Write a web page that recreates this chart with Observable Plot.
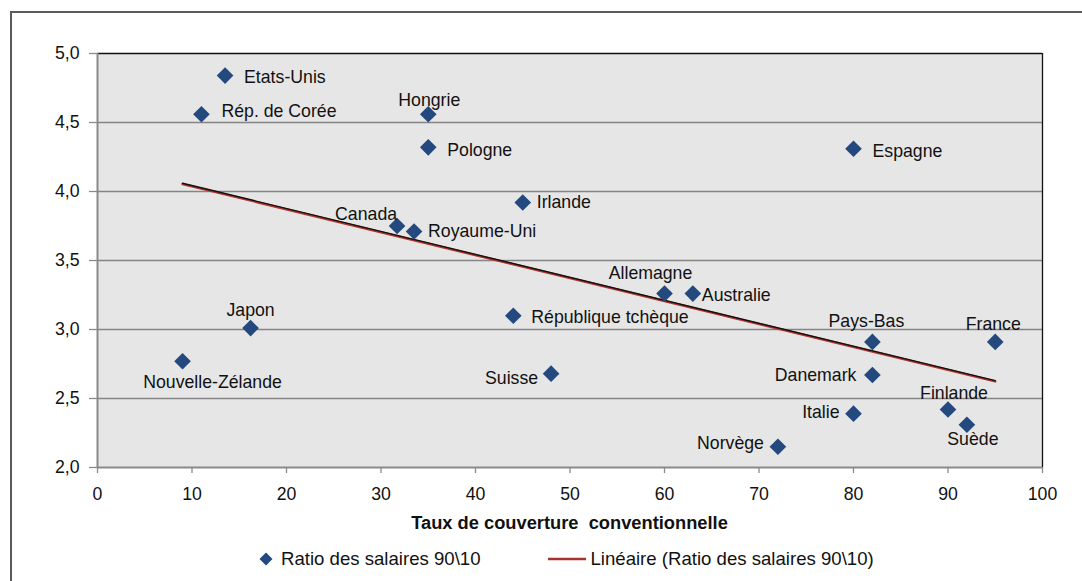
<!DOCTYPE html>
<html><head><meta charset="utf-8">
<script src="https://cdn.jsdelivr.net/npm/d3@7"></script>
<script src="https://cdn.jsdelivr.net/npm/@observablehq/plot@0.6"></script>
<style>
body{margin:0;background:#fff;font-family:"Liberation Sans",Arial,sans-serif;color:#111}
#wrap{position:relative;width:1082px;height:581px;overflow:hidden}
#frame{position:absolute;left:10px;top:11px;width:1200px;height:700px;border-left:2px solid #5a5a5a;border-top:2px solid #5a5a5a}
#chart{position:absolute;left:0;top:0}
#xtitle{position:absolute;left:97px;width:945px;top:512px;text-align:center;font-weight:bold;font-size:18.3px;white-space:pre}
#legend{position:absolute;left:258px;top:548px;display:flex;align-items:center;font-size:18.6px;white-space:pre}
#legend .it{display:flex;align-items:center}
</style></head>
<body><div id="wrap"><div id="frame"></div><div id="chart"></div>
<div id="xtitle"></div><div id="legend"></div></div>
<script>
// ---- data ----
const countries = ["Etats-Unis","Rép. de Corée","Hongrie","Pologne","Espagne","Irlande","Canada","Royaume-Uni","Allemagne","Australie","République tchèque","Japon","Nouvelle-Zélande","Suisse","Pays-Bas","France","Danemark","Italie","Finlande","Suède","Norvège"];
const coverage = [13.5, 11, 35, 35, 80, 45, 31.7, 33.5, 60, 63, 44, 16.2, 9, 48, 82, 95, 82, 80, 90, 92, 72];
const ratio90_10 = [4.84, 4.56, 4.56, 4.32, 4.31, 3.92, 3.75, 3.71, 3.26, 3.26, 3.10, 3.01, 2.77, 2.68, 2.91, 2.91, 2.67, 2.39, 2.42, 2.31, 2.15];
const xTicks = [0,10,20,30,40,50,60,70,80,90,100];
const yTicks = [2.0,2.5,3.0,3.5,4.0,4.5,5.0];
const xTitle = "Taux de couverture  conventionnelle";
const seriesName = "Ratio des salaires 90\\10";
const trendName = "Linéaire (Ratio des salaires 90\\10)";

// label placement (layout): [textAnchor, dx, dy]
const placement = {
  "Etats-Unis":["start",19,2], "Rép. de Corée":["start",20,-3], "Hongrie":["middle",1,-14],
  "Pologne":["start",19,3], "Espagne":["start",19,3], "Irlande":["start",14,0],
  "Canada":["end",0,-12], "Royaume-Uni":["start",14,0], "Allemagne":["middle",-14,-20],
  "Australie":["start",9,2], "République tchèque":["start",18,2], "Japon":["middle",0,-18],
  "Nouvelle-Zélande":["middle",30,21], "Suisse":["end",-13,5], "Pays-Bas":["middle",-6,-21],
  "France":["middle",-2,-18], "Danemark":["end",-16,0], "Italie":["end",-14,-1],
  "Finlande":["middle",6,-16], "Suède":["middle",6,15], "Norvège":["end",-14,-3]
};

const data = countries.map((c,i)=>({country:c, x:coverage[i], y:ratio90_10[i]}));
const fmt = d => d3.format(".1f")(d).replace(".", ",");
const blue = "#23497e";

const labels = data.map(d => {
  const [a,dx,dy] = placement[d.country];
  return Plot.text([d], {x:"x", y:"y", text:"country", textAnchor:a, dx, dy, fill:"#111"});
});

const chart = Plot.plot({
  width:1082, height:505,
  marginLeft:97, marginRight:40, marginTop:53, marginBottom:38,
  style:{fontSize:"17.7px", fontFamily:"'Liberation Sans', Arial, sans-serif", background:"transparent", color:"#111", overflow:"visible"},
  x:{domain:[0,100], label:null},
  y:{domain:[2,5], label:null},
  marks:[
    Plot.frame({fill:"#e6e6e6", stroke:null}),
    Plot.ruleY(yTicks.filter(t=>t>2 && t<5), {stroke:"#858585", strokeWidth:1.3}),
    Plot.ruleY([5], {stroke:"#111", strokeWidth:1.3}),
    Plot.ruleX([100], {stroke:"#111", strokeWidth:1.3}),
    Plot.ruleY([2], {stroke:"#8a8a8a", strokeWidth:2}),
    Plot.ruleX([0], {stroke:"#8a8a8a", strokeWidth:2}),
    Plot.axisY({ticks:yTicks, tickFormat:fmt, tickSize:8, tickPadding:10, stroke:"#8a8a8a", fill:"#111", strokeWidth:1.3, label:null}),
    Plot.axisX({ticks:xTicks, tickFormat:d=>String(d), tickSize:6, tickPadding:14, stroke:"#8a8a8a", fill:"#111", strokeWidth:1.3, label:null}),
    Plot.linearRegressionY(data, {x:"x", y:"y", ci:0, stroke:"#b3332c", strokeWidth:2.4, dy:0.8}),
    Plot.linearRegressionY(data, {x:"x", y:"y", ci:0, stroke:"#111", strokeWidth:1.4}),
    Plot.dot(data, {x:"x", y:"y", symbol:"diamond2", r:7.5, fill:blue, stroke:null}),
    ...labels
  ]
});
document.getElementById("chart").appendChild(chart);
document.getElementById("xtitle").textContent = xTitle;

const leg = document.getElementById("legend");
leg.innerHTML = `<span class="it"><svg width="16" height="16"><path d="M8 1.5L14.5 8L8 14.5L1.5 8Z" fill="${blue}"/></svg><span style="margin-left:7px"></span></span>
<span class="it" style="margin-left:67px"><svg width="40" height="16"><line x1="1" x2="39" y1="8" y2="8" stroke="#a8322c" stroke-width="2.5"/></svg><span style="margin-left:3px"></span></span>`;
const spans = leg.querySelectorAll(".it > span");
spans[0].textContent = seriesName;
spans[1].textContent = trendName;
</script></body></html>
